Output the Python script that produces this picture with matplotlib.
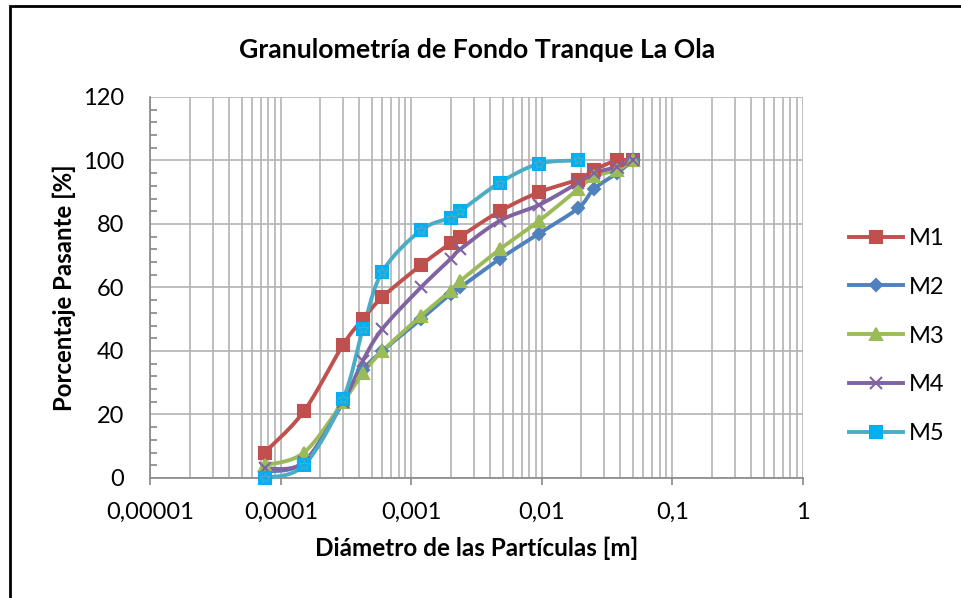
import numpy as np
import matplotlib
matplotlib.use("Agg")
import matplotlib.pyplot as plt
from matplotlib.ticker import LogLocator, FixedLocator, MultipleLocator, NullFormatter
from matplotlib.patches import Rectangle
from matplotlib.lines import Line2D

plt.rcParams['font.family'] = ['Lato', 'DejaVu Sans']

# sieve openings [m]
diam = [0.000075, 0.00015, 0.0003, 0.000425, 0.0006, 0.00118, 0.002,
        0.00236, 0.00475, 0.0095, 0.019, 0.025, 0.0375, 0.05]

m1 = [8, 21, 42, 50, 57, 67, 74, 76, 84, 90, 94, 97, 100, 100]
m2 = [2, 5, 24, 34, 40, 50, 58, 60, 69, 77, 85, 91, 96, 100]
m3 = [4, 8, 24, 33, 40, 51, 59, 62, 72, 81, 91, 95, 97, 100]
m4 = [3, 5, 24, 37, 47, 60, 69, 72, 81, 86, 93, 96, 98, 100]
m5 = [0, 4, 25, 47, 65, 78, 82, 84, 93, 99, 100]

series_names = ["M1", "M2", "M3", "M4", "M5"]
x_ticks = [0.00001, 0.0001, 0.001, 0.01, 0.1, 1]
x_labels = ["0,00001", "0,0001", "0,001", "0,01", "0,1", "1"]


def smooth(xs, ys, n=24):
    # Excel-like smoothed line: cardinal spline in screen-ish space
    px = np.log10(np.array(xs, float)) * 130.6
    py = np.array(ys, float) * 3.175
    pts = np.column_stack([px, py])
    out = [pts[0]]
    for i in range(len(pts) - 1):
        p0 = pts[i - 1] if i > 0 else pts[i]
        p1 = pts[i]
        p2 = pts[i + 1]
        p3 = pts[i + 2] if i + 2 < len(pts) else pts[i + 1]
        c1 = p1 + (p2 - p0) / 6.0
        c2 = p2 - (p3 - p1) / 6.0
        t = np.linspace(0, 1, n)[1:, None]
        seg = ((1 - t) ** 3) * p1 + 3 * ((1 - t) ** 2) * t * c1 + 3 * (1 - t) * t ** 2 * c2 + t ** 3 * p2
        out.extend(seg)
    out = np.array(out)
    return 10 ** (out[:, 0] / 130.6), out[:, 1] / 3.175


fig = plt.figure(figsize=(9.61, 5.98), dpi=100)
ax = fig.add_axes([0.1565, 0.2007, 0.679, 0.6371])

styles = [
    dict(color="#C0504D", marker="s", ms=9, mfc="#C0504D", mec="#C0504D"),
    dict(color="#4F81BD", marker="D", ms=6.5, mfc="#4F81BD", mec="#4F81BD"),
    dict(color="#9BBB59", marker="^", ms=9, mfc="#9BBB59", mec="#9BBB59"),
    dict(color="#8064A2", marker="x", ms=8, mfc="none", mec="#8064A2"),
    dict(color="#4BACC6", marker="s", ms=8, mfc="#00B0F0", mec="#00B0F0"),
]
data = [m1, m2, m3, m4, m5]

handles = []
for name, vals, st in zip(series_names, data, styles):
    xs = diam[:len(vals)]
    sx, sy = smooth(xs, vals)
    ax.plot(sx, sy, color=st["color"], lw=2.8, zorder=3, solid_capstyle="round", clip_on=False)
    ax.plot(xs, vals, ls="none", marker=st["marker"], ms=st["ms"], mfc=st["mfc"],
            mec=st["mec"], mew=1.5, zorder=4, clip_on=False)
    if name == "M5":
        ax.plot(xs, vals, ls="none", marker="*", ms=7, mfc="none", mec="#4BACC6",
                mew=0.8, zorder=5, clip_on=False)
    handles.append(Line2D([0], [0], color=st["color"], lw=2.8, marker=st["marker"],
                          ms=st["ms"], mfc=st["mfc"], mec=st["mec"], mew=1.5))

ax.set_xscale("log")
ax.set_xlim(1e-5, 1)
ax.set_ylim(0, 120)
ax.xaxis.set_major_locator(FixedLocator(x_ticks))
ax.set_xticklabels(x_labels)
ax.xaxis.set_minor_locator(LogLocator(base=10, subs=np.arange(2, 10)))
ax.xaxis.set_minor_formatter(NullFormatter())
ax.yaxis.set_major_locator(MultipleLocator(20))
ax.yaxis.set_minor_locator(MultipleLocator(4))

ax.grid(True, which="major", color="#B3B3B3", lw=1.2)
ax.grid(True, which="minor", axis="x", color="#B3B3B3", lw=1.2)
ax.set_axisbelow(True)
for s in ["top", "right"]:
    ax.spines[s].set_visible(False)
for s in ["left", "bottom"]:
    ax.spines[s].set_color("#888888")
    ax.spines[s].set_linewidth(1.2)
ax.tick_params(axis="both", which="major", direction="out", length=5, color="#888888",
               width=1.2, labelsize=17)
ax.tick_params(axis="x", which="major", pad=12)
ax.tick_params(axis="x", which="minor", length=0)
ax.tick_params(axis="y", which="minor", direction="in", length=5, color="#888888", width=1.2)
ax.tick_params(axis="y", which="major", length=0, pad=19)

ax.set_title("Granulometría de Fondo Tranque La Ola", fontsize=19.2, fontweight="bold", pad=28)
ax.set_xlabel("Diámetro de las Partículas [m]", fontsize=17.5, fontweight="bold", labelpad=10)
ax.set_ylabel("Porcentaje Pasante [%]", fontsize=17.3, fontweight="bold", labelpad=5)

leg = fig.legend(handles, series_names, loc="center left", bbox_to_anchor=(849 / 961, 1 - 336 / 598),
                 frameon=False, fontsize=17, handlelength=2.3, labelspacing=1.18,
                 borderaxespad=0, borderpad=0, handletextpad=0.25)

fig.patches.append(Rectangle((10 / 961, -0.1), 1.2, 1 - 6 / 598 + 0.1, transform=fig.transFigure,
                             fill=False, ec="black", lw=2))

fig.savefig("out.png", dpi=100)
